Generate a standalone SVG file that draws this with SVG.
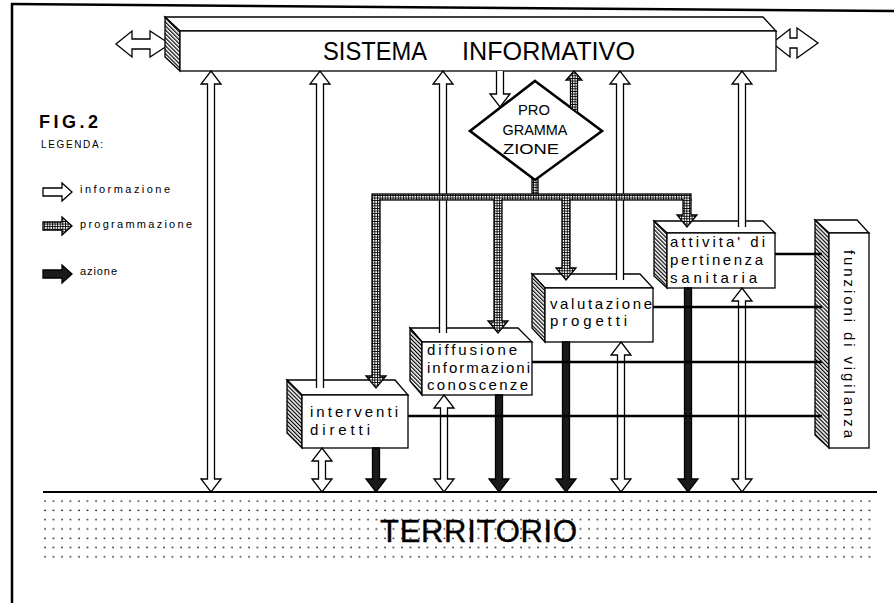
<svg xmlns="http://www.w3.org/2000/svg" width="894" height="603" viewBox="0 0 894 603">
<style>
.o{stroke:#000;stroke-width:1.3;stroke-linejoin:miter}
.w{fill:#fff}
.h{fill:url(#hatch)}
.x{fill:url(#xh)}
.b{fill:#1a1a1a}
.t{font-family:"Liberation Sans",Arial,sans-serif;fill:#000}
.lbl{font-size:15px}
.ln{stroke:#000;stroke-width:2.4;fill:none}
</style>
<defs>
<pattern id="hatch" width="2.8" height="2.8" patternUnits="userSpaceOnUse" patternTransform="rotate(-45)">
<rect width="2.8" height="2.8" fill="#fff"/>
<line x1="0.6" y1="0" x2="0.6" y2="2.8" stroke="#000" stroke-width="1.2"/>
</pattern>
<pattern id="xh" width="2.6" height="2.6" patternUnits="userSpaceOnUse">
<rect width="2.6" height="2.6" fill="#fff"/>
<path d="M0,0.5H2.6M0.5,0V2.6" stroke="#000" stroke-width="0.9"/>
</pattern>
<pattern id="dots" x="43" y="497" width="8.5" height="9.3" patternUnits="userSpaceOnUse">
<circle cx="2" cy="4" r="0.85" fill="#000"/>
</pattern>
</defs>
<rect width="894" height="603" fill="#fff"/>
<!-- frame -->
<g id="frame">
<line x1="12" y1="3" x2="12" y2="603" stroke="#000" stroke-width="2.5"/>
<line x1="11" y1="4" x2="894" y2="11" stroke="#000" stroke-width="2.5"/>
</g>
<!-- legend -->
<g id="legend">
<text class="t" x="39" y="128" font-size="18" font-weight="bold" textLength="59">FIG.2</text>
<text class="t" x="41" y="148" font-size="10" textLength="62">LEGENDA:</text>
<path class="o w" d="M43,188 H62 V183 L72,192 L62,201 V196 H43 Z"/>
<text class="t" x="80" y="193" font-size="11" textLength="90">informazione</text>
<path class="o x" d="M43,222 H62 V217 L72,226 L62,235 V230 H43 Z"/>
<text class="t" x="80" y="228" font-size="11" textLength="112">programmazione</text>
<path class="o b" d="M43,270 H62 V265 L72,274 L62,283 V278 H43 Z"/>
<text class="t" x="80" y="275" font-size="11" textLength="37">azione</text>
</g>
<!-- territorio -->
<g id="territorio">
<rect x="43" y="497" width="834" height="64" fill="url(#dots)"/>
<line x1="43" y1="492" x2="877" y2="492" stroke="#000" stroke-width="2.2"/>
<text class="t" x="380" y="542" font-size="31" stroke="#000" stroke-width="0.4" textLength="197">TERRITORIO</text>
</g>
<!-- sistema informativo -->
<g id="sistema">
<path class="o w" d="M165,40.8 L150,31 V39 H132 V31 L116,44 L132,57 V49 H150 V57 L165,47.3"/>
<path class="o w" d="M776,39.9 L790,29 V38 H797 V28 L818,43 L797,58 V48 H790 V57 L776,46.1"/>
<polygon class="o w" points="165,17 763,17 776,31 180,31"/>
<polygon class="o h" points="165,17 180,31 180,71 165,57"/>
<rect class="o w" x="180" y="31" width="596" height="40"/>
<text class="t" x="323" y="60" font-size="25" textLength="104" lengthAdjust="spacingAndGlyphs">SISTEMA</text>
<text class="t" x="462" y="60" font-size="25" textLength="173" lengthAdjust="spacingAndGlyphs">INFORMATIVO</text>
</g>
<!-- programmazione -->
<g id="programmazione">
<polygon points="535,81 602,131 535,180 470,131" fill="#fff" stroke="#000" stroke-width="2.6"/>
<text class="t" x="534" y="115" font-size="15" text-anchor="middle" textLength="32" lengthAdjust="spacingAndGlyphs">PRO</text>
<text class="t" x="535" y="135" font-size="15" text-anchor="middle" textLength="65" lengthAdjust="spacingAndGlyphs">GRAMMA</text>
<text class="t" x="531" y="154" font-size="15" text-anchor="middle" textLength="56" lengthAdjust="spacingAndGlyphs">ZIONE</text>
</g>
<!-- boxes -->
<g id="interventi">
<polygon class="o w" points="287,380 395,380 408,395 302,395"/>
<polygon class="o h" points="287,380 302,395 302,448 287,433"/>
<rect class="o w" x="302" y="395" width="106" height="53"/>
<text class="t lbl" x="310" y="417" textLength="88">interventi</text>
<text class="t lbl" x="310" y="435" textLength="60">diretti</text>
</g>
<g id="diffusione">
<polygon class="o w" points="410,328 518,328 532,342 422,342"/>
<polygon class="o h" points="410,328 422,342 422,395 410,381"/>
<rect class="o w" x="422" y="342" width="110" height="53"/>
<text class="t lbl" x="427" y="355" textLength="90">diffusione</text>
<text class="t lbl" x="427" y="372.5" textLength="103">informazioni</text>
<text class="t lbl" x="427" y="390" textLength="101">conoscenze</text>
</g>
<g id="valutazione">
<polygon class="o w" points="532,274 640,274 653,288 545,288"/>
<polygon class="o h" points="532,274 545,288 545,342 532,328"/>
<rect class="o w" x="545" y="288" width="108" height="54"/>
<text class="t lbl" x="550" y="309" textLength="102">valutazione</text>
<text class="t lbl" x="550" y="326" textLength="77">progetti</text>
</g>
<g id="attivita">
<polygon class="o w" points="654,221 763,221 775,233 667,233"/>
<polygon class="o h" points="654,221 667,233 667,288 654,276"/>
<rect class="o w" x="667" y="233" width="108" height="55"/>
<text class="t lbl" x="670" y="247" textLength="95">attivita' di</text>
<text class="t lbl" x="670" y="265" textLength="93">pertinenza</text>
<text class="t lbl" x="670" y="283" textLength="87">sanitaria</text>
</g>
<g id="vigilanza">
<polygon class="o w" points="815,220 857,220 869,233 829,233"/>
<polygon class="o h" points="815,220 829,233 829,448 815,435"/>
<rect class="o w" x="829" y="233" width="40" height="215"/>
<text class="t lbl" transform="translate(844,344) rotate(90)" x="0" y="0" text-anchor="middle" textLength="188">funzioni di vigilanza</text>
</g>
<!-- connectors -->
<g id="connectors">
<path class="o w" d="M211,71 L221,84 H214.5 V479 H221 L211,492 L201,479 H207.5 V84 H201 Z"/>
<path class="o w" d="M316.5,388 V84 H310 L320,71 L330,84 H323.5 V388"/>
<path class="o w" d="M439.5,333 V84 H433 L443,71 L453,84 H446.5 V333"/>
<path class="o w" d="M616.5,280 V84 H610 L620,71 L630,84 H623.5 V280"/>
<path class="o w" d="M738.5,227 V84 H732 L742,71 L752,84 H745.5 V227"/>
<path class="o w" d="M496.5,71 V94 H490 L500,107 L510,94 H503.5 V71"/>
<path class="o w" d="M322,448 L332,461 H325.5 V479 H332 L322,492 L312,479 H318.5 V461 H312 Z"/>
<path class="o w" d="M444,395 L454,408 H447.5 V479 H454 L444,492 L434,479 H440.5 V408 H434 Z"/>
<path class="o w" d="M621,342 L631,355 H624.5 V479 H631 L621,492 L611,479 H617.5 V355 H611 Z"/>
<path class="o w" d="M742,288 L752,301 H745.5 V479 H752 L742,492 L732,479 H738.5 V301 H732 Z"/>
<path class="o x" d="M570.5,107.5 V80 H566 L574,71 L582,80 H577.5 V112.7 Z"/>
<path class="o x" d="M532,178 L535,180.5 L538,178 V195 H532 Z"/>
<rect class="o x" x="372" y="194" width="319" height="6"/>
<path class="o x" d="M372,199 V376 H366 L376,388 L386,376 H380 V199"/>
<path class="o x" d="M494,199 V321 H488 L498,333 L508,321 H502 V199"/>
<path class="o x" d="M562,199 V268 H556 L566,280 L576,268 H570 V199"/>
<path class="o x" d="M683,199 V215 H677 L687,227 L697,215 H691 V199"/>
<path class="o b" d="M372.5,448 V479 H366 L376,492 L386,479 H379.5 V448 Z"/>
<path class="o b" d="M495.5,395 V479 H489 L499,492 L509,479 H502.5 V395 Z"/>
<path class="o b" d="M562.5,342 V479 H556 L566,492 L576,479 H569.5 V342 Z"/>
<path class="o b" d="M684.5,288 V479 H678 L688,492 L698,479 H691.5 V288 Z"/>
<line class="ln" x1="775" y1="254" x2="822" y2="254"/>
<line class="ln" x1="653" y1="307" x2="822" y2="307"/>
<line class="ln" x1="532" y1="362" x2="822" y2="362"/>
<line class="ln" x1="408" y1="416" x2="822" y2="416"/>
</g>
</svg>
